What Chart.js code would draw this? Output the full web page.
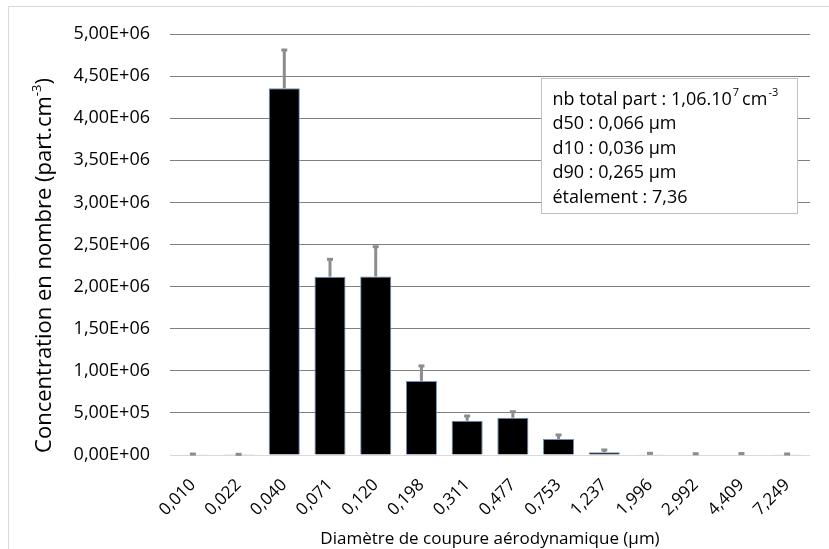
<!DOCTYPE html>
<html>
<head>
<meta charset="utf-8">
<script src="https://cdn.jsdelivr.net/npm/chart.js@4/dist/chart.umd.min.js"></script>
<style>
  body { margin: 0; background: #fff; }
</style>
</head>
<body>
<canvas id="myBarChart" width="829" height="549"></canvas>
<script>
// cut-off diameters (category labels)
var diameters = ["0,010", "0,022", "0,040", "0,071", "0,120", "0,198", "0,311", "0,477", "0,753", "1,237", "1,996", "2,992", "4,409", "7,249"];
// number concentration per stage (part.cm-3)
var concentrations = [3000, 2000, 4355000, 2118000, 2120000, 880000, 407000, 443000, 190000, 32000, 8000, 5000, 5000, 4000];
// upper error (standard deviation)
var errors = [8000, 6000, 455000, 206000, 354000, 178000, 56000, 71000, 48000, 28000, 12000, 10000, 12000, 8000];
// y axis range
var yMax = 5000000;
var yStep = 500000;
// text box lines
var boxLines = ["d50 : 0,066 µm", "d10 : 0,036 µm", "d90 : 0,265 µm", "étalement : 7,36"];

var FONT = "'Open Sans', sans-serif";

//format like excel : 5,00E+06
function sciLabel(v) {
	var s = Number(v).toExponential(2);
	var parts = s.split("e");
	var mant = parts[0].replace(".", ",");
	var exp = parseInt(parts[1], 10);
	var sign = exp < 0 ? "-" : "+";
	exp = Math.abs(exp);
	return mant + "E" + sign + (exp < 10 ? "0" + exp : exp);
}

var frame = {
	id: "frame",
	beforeDraw: function(chart) {
		var c = chart.ctx;
		c.save();
		c.fillStyle = "#ffffff";
		c.fillRect(0, 0, chart.width, chart.height);
		c.strokeStyle = "#d9d9d9";
		c.lineWidth = 1;
		c.beginPath();
		c.moveTo(8.5, chart.height);
		c.lineTo(8.5, 6.5);
		c.lineTo(chart.width, 6.5);
		c.stroke();
		c.restore();
	}
};

var errorBars = {
	id: "errorBars",
	afterDatasetsDraw: function(chart) {
		var c = chart.ctx;
		var meta = chart.getDatasetMeta(0);
		var yScale = chart.scales.y;
		c.save();
		c.strokeStyle = "#8c8c8c";
		c.lineWidth = 3;
		for (var i = 0; i < meta.data.length; i++) {
			var bar = meta.data[i];
			var yTop = yScale.getPixelForValue(concentrations[i] + errors[i]);
			c.beginPath();
			c.moveTo(bar.x, bar.y);
			c.lineTo(bar.x, yTop);
			c.stroke();
			c.beginPath();
			c.moveTo(bar.x - 3, yTop);
			c.lineTo(bar.x + 3, yTop);
			c.stroke();
		}
		c.restore();
	}
};

var annotations = {
	id: "annotations",
	afterDraw: function(chart) {
		var c = chart.ctx;
		var area = chart.chartArea;
		c.save();

		//text box
		var bx = area.left + 371.5, by = area.top + 44.5, bw = 256, bh = 135;
		c.fillStyle = "#ffffff";
		c.fillRect(bx, by, bw, bh);
		c.strokeStyle = "#bfbfbf";
		c.lineWidth = 1;
		c.strokeRect(bx, by, bw, bh);

		c.fillStyle = "#000000";
		c.textBaseline = "middle";
		c.textAlign = "left";
		var tx = bx + 11;
		var ty = by + 21;
		c.font = "18px " + FONT;
		var t1 = "nb total part : 1,06.10";
		c.fillText(t1, tx, ty);
		var x = tx + c.measureText(t1).width;
		c.font = "11px " + FONT;
		c.fillText("7", x + 1, ty - 7);
		x += c.measureText("7").width + 4;
		c.font = "18px " + FONT;
		c.fillText("cm", x, ty);
		x += c.measureText("cm").width;
		c.font = "11px " + FONT;
		c.fillText("-3", x + 1, ty - 7);
		c.font = "18px " + FONT;
		for (var i = 0; i < boxLines.length; i++) {
			c.fillText(boxLines[i], tx, ty + 24.5 * (i + 1));
		}

		//y axis title, with superscript
		c.translate(45, (area.top + area.bottom) / 2 + 21);
		c.rotate(-Math.PI / 2);
		c.font = "22px " + FONT;
		var main = "Concentration en nombre (part.cm";
		var w1 = c.measureText(main).width;
		c.font = "13px " + FONT;
		var w2 = c.measureText("-3").width;
		c.font = "22px " + FONT;
		var w3 = c.measureText(")").width;
		var start = -(w1 + w2 + w3) / 2;
		c.fillText(main, start, 0);
		c.font = "13px " + FONT;
		c.fillText("-3", start + w1, -8);
		c.font = "22px " + FONT;
		c.fillText(")", start + w1 + w2, 0);
		c.restore();
	}
};

var barData = {
	labels: diameters,
	datasets: [{
		label: "Concentration",
		data: concentrations,
		backgroundColor: "#000000",
		borderColor: "#6b8fc4",
		borderWidth: 1,
		barPercentage: 0.68,
		categoryPercentage: 1.0
	}]
};

var bar_ctx = document.getElementById("myBarChart");
var myBarChart = new Chart(bar_ctx, {
	type: "bar",
	data: barData,
	options: {
		responsive: false,
		animation: false,
		layout: { padding: { left: 0, right: 19, top: 34, bottom: 0 } },
		plugins: {
			legend: { display: false },
			tooltip: { enabled: false }
		},
		scales: {
			x: {
				grid: { display: false },
				border: { display: false },
				ticks: {
					color: "#000000",
					font: { family: FONT, size: 17 },
					minRotation: 45,
					maxRotation: 45,
					padding: 12
				},
				title: {
					display: true,
					text: "Diamètre de coupure aérodynamique (µm)",
					color: "#000000",
					font: { family: FONT, size: 17 },
					padding: { top: 0, bottom: 0 }
				},
				afterFit: function(scale) { scale.height = 94; }
			},
			y: {
				min: 0,
				max: yMax,
				ticks: {
					stepSize: yStep,
					color: "#000000",
					font: { family: FONT, size: 18 },
					padding: 20,
					callback: function(v) { return sciLabel(v); }
				},
				grid: {
					drawTicks: false,
					lineWidth: 1,
					color: function(ctx) { return ctx.tick && ctx.tick.value === 0 ? "#d9d9d9" : "#808080"; }
				},
				border: { display: false },
				afterFit: function(scale) { scale.width = 170; }
			}
		}
	},
	plugins: [frame, errorBars, annotations]
});
</script>
</body>
</html>
